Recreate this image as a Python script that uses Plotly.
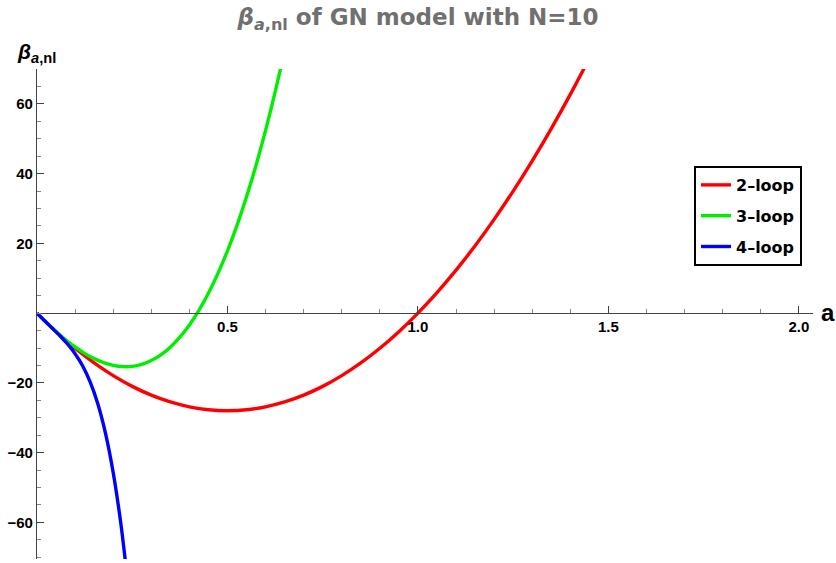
import plotly.graph_objects as go

# ---- data ----
a_2loop = [0, 0.05, 0.1, 0.15, 0.2, 0.25, 0.3, 0.35, 0.4, 0.45, 0.5, 0.55, 0.6, 0.65,
           0.7, 0.75, 0.8, 0.85, 0.9, 0.95, 1.0, 1.05, 1.1, 1.15, 1.2, 1.25, 1.3, 1.35,
           1.4, 1.45]
beta_2loop = [0, -5.32, -10.08, -14.28, -17.92, -21.0, -23.52, -25.48, -26.88, -27.72,
              -28.0, -27.72, -26.88, -25.48, -23.52, -21.0, -17.92, -14.28, -10.08, -5.32,
              0, 5.88, 12.32, 19.32, 26.88, 35.0, 43.68, 52.92, 62.72, 73.08]

a_3loop = [0, 0.025, 0.05, 0.075, 0.1, 0.125, 0.15, 0.175, 0.2, 0.225, 0.25, 0.275, 0.3,
           0.325, 0.35, 0.375, 0.4, 0.425, 0.45, 0.475, 0.5, 0.525, 0.55, 0.575, 0.6,
           0.625, 0.65]
beta_3loop = [0, -2.72, -5.27, -7.62, -9.71, -11.53, -13.04, -14.20, -14.98, -15.35,
              -15.27, -14.70, -13.61, -11.97, -9.75, -6.90, -3.39, 0.80, 5.72, 11.40,
              17.88, 25.18, 33.34, 42.40, 52.39, 63.35, 75.31]

a_4loop = [0, 0.02, 0.04, 0.06, 0.08, 0.1, 0.12, 0.14, 0.16, 0.18, 0.2, 0.22, 0.235]
beta_4loop = [0, -2.20, -4.33, -6.49, -8.84, -11.63, -15.17, -19.86, -26.13, -34.55,
              -45.70, -60.29, -73.93]

series_names = ["2\u2013loop", "3\u2013loop", "4\u2013loop"]
series_colors = ["#ff0000", "#00ee00", "#0000ff"]

x_tickvals = [0.5, 1.0, 1.5, 2.0]
x_ticktext = ["0.5", "1.0", "1.5", "2.0"]
y_tickvals = [-60, -40, -20, 20, 40, 60]

x_range = [0, 2.037]
y_range = [-70.5, 70]

fig = go.Figure()
for i, (xs, ys) in enumerate([(a_2loop, beta_2loop), (a_3loop, beta_3loop), (a_4loop, beta_4loop)]):
    fig.add_trace(go.Scatter(
        x=xs, y=ys, mode="lines", name=series_names[i],
        line=dict(color=series_colors[i], width=3.4, shape="spline", smoothing=0.8),
        legendgroup=f"g{i}", cliponaxis=True,
    ))

axis_color = "#444444"
arial = "Arial, Liberation Sans, sans-serif"
wide = "DejaVu Sans, Arial, sans-serif"
tick_font = dict(family=arial, size=15, color="black", weight="bold")
x0_pos = (0 - y_range[0]) / (y_range[1] - y_range[0])

fig.update_layout(
    width=836, height=563,
    margin=dict(l=37, r=23, t=69, b=4, autoexpand=False),
    paper_bgcolor="white", plot_bgcolor="white",
    showlegend=True,
    title=dict(
        text="<b><i>β</i><sub><i>a</i>,nl</sub> of GN model with N=10</b>",
        x=418 / 836, xref="container", xanchor="center",
        y=1 - 17 / 563, yref="container", yanchor="middle",
        font=dict(family=wide, size=23, color="#707070"),
    ),
    xaxis=dict(
        range=x_range, anchor="free", position=x0_pos, automargin=False,
        showline=True, linecolor=axis_color, linewidth=1.3,
        showgrid=False, zeroline=False,
        ticks="inside", ticklen=7, tickwidth=1, tickcolor=axis_color,
        tickvals=x_tickvals, ticktext=x_ticktext, tickfont=tick_font,
        minor=dict(dtick=0.1, tick0=0, ticks="inside", ticklen=4, tickcolor="#888888", showgrid=False),
    ),
    yaxis=dict(
        range=y_range, anchor="x", automargin=False,
        showline=True, linecolor=axis_color, linewidth=1.3,
        showgrid=False, zeroline=False,
        ticks="inside", ticklen=7, tickwidth=1, tickcolor=axis_color,
        tickvals=y_tickvals, tickfont=tick_font,
        minor=dict(dtick=5, tick0=0, ticks="inside", ticklen=4, tickcolor="#888888", showgrid=False),
    ),
    legend=dict(
        x=(748 - 37) / 776, xanchor="center",
        y=1 - (166 - 69) / 490, yanchor="top",
        bgcolor="white", bordercolor="black", borderwidth=2,
        font=dict(family=wide, size=16, color="black", weight="bold"),
        traceorder="grouped", tracegroupgap=7, itemwidth=30,
    ),
    annotations=[
        dict(text="<b><i>β</i><sub><i>a</i>,nl</sub></b>", xref="paper", yref="paper",
             x=(15 - 37) / 776, y=1 + (69 - 53) / 490, xanchor="left", yanchor="middle",
             showarrow=False,
             font=dict(family=arial, size=21, color="black")),
        dict(text="<b>a</b>", xref="paper", yref="paper",
             x=(819 - 37) / 776, y=x0_pos + 1 / 490, xanchor="left", yanchor="middle",
             showarrow=False,
             font=dict(family=arial, size=24, color="black")),
    ],
)

fig.write_html("out.html", config={"displayModeBar": False},
               post_script="document.body.style.margin='0';")
